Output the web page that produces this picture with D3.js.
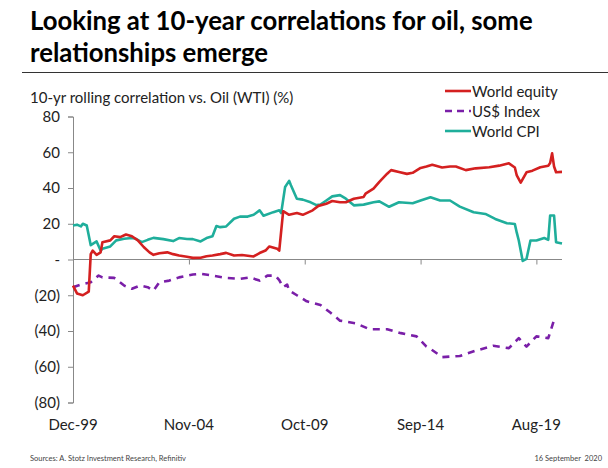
<!DOCTYPE html>
<html lang="en">
<head>
<meta charset="utf-8">
<title>10-year correlations for oil</title>
<script src="https://cdnjs.cloudflare.com/ajax/libs/d3/7.8.5/d3.min.js"></script>
<style>
  body { margin: 0; background: #fff; }
  svg text { font-family: Lato, "Open Sans", sans-serif; }
</style>
</head>
<body>
<div id="chart"></div>
<script>
// chart data
var equity = [
  ["1999-12", -14.6], ["2000-02", -19], ["2000-05", -20], ["2000-08", -18], ["2000-09", 3],
  ["2000-10", 5], ["2000-12", 2.6], ["2001-02", 4], ["2001-03", 9.7], ["2001-07", 10.7],
  ["2001-09", 13], ["2001-12", 12.5], ["2002-03", 14], ["2002-06", 13], ["2002-09", 10.7],
  ["2002-12", 7], ["2003-03", 4], ["2003-05", 2.6], ["2003-08", 3.5], ["2003-12", 4],
  ["2004-03", 3], ["2004-06", 2.2], ["2004-10", 1.5], ["2005-01", 0.9], ["2005-05", 1],
  ["2005-08", 1.8], ["2005-11", 2.2], ["2006-03", 3], ["2006-06", 3.7], ["2006-10", 2.2],
  ["2007-02", 2.5], ["2007-08", 1.7], ["2007-11", 3.6], ["2008-02", 5], ["2008-04", 7.3],
  ["2008-08", 6], ["2008-09", 5], ["2008-11", 27], ["2009-02", 25], ["2009-06", 26],
  ["2009-09", 25], ["2010-02", 27.5], ["2010-05", 30], ["2010-09", 31.2], ["2010-12", 32.7],
  ["2011-04", 32], ["2011-07", 32], ["2011-11", 34], ["2012-04", 35], ["2012-05", 36.8],
  ["2012-09", 39.6], ["2012-12", 43.4], ["2013-04", 48], ["2013-06", 50], ["2013-10", 49],
  ["2014-02", 47.9], ["2014-05", 48.5], ["2014-09", 51.2], ["2014-12", 52], ["2015-03", 53],
  ["2015-08", 51.5], ["2015-12", 52], ["2016-03", 52], ["2016-08", 50], ["2017-01", 51],
  ["2017-08", 51.6], ["2018-01", 52.5], ["2018-06", 53.8], ["2018-09", 51.5], ["2018-10", 47],
  ["2018-12", 43], ["2019-03", 48.8], ["2019-06", 49.7], ["2019-10", 51.6], ["2020-02", 52.5],
  ["2020-03", 54], ["2020-04", 59.4], ["2020-05", 52], ["2020-06", 48.8], ["2020-09", 49]
];
var usdIndex = [
  ["1999-12", -15.5], ["2000-04", -14], ["2000-09", -12.7], ["2001-01", -9], ["2001-03", -10],
  ["2001-09", -10.3], ["2002-02", -14.6], ["2002-06", -16.4], ["2002-10", -14.6], ["2003-02", -15.5],
  ["2003-05", -17.4], ["2003-08", -12.7], ["2004-01", -11.8], ["2004-06", -10], ["2005-01", -8.4],
  ["2005-05", -8], ["2005-11", -9], ["2006-06", -10.3], ["2007-01", -10.8], ["2007-06", -10],
  ["2007-11", -11.8], ["2008-03", -9], ["2008-07", -9], ["2008-09", -11.5], ["2008-11", -15.5],
  ["2009-01", -14], ["2009-02", -17.4], ["2009-06", -20], ["2009-11", -23.4], ["2010-06", -25.4],
  ["2010-11", -29.7], ["2011-04", -34.2], ["2011-12", -35.7], ["2012-07", -39], ["2013-04", -39],
  ["2013-11", -41.2], ["2014-07", -43], ["2014-12", -48.7], ["2015-02", -50], ["2015-08", -54.6],
  ["2016-05", -54], ["2017-01", -51], ["2017-10", -48.3], ["2018-06", -49.6], ["2018-11", -44],
  ["2019-03", -48.7], ["2019-08", -43], ["2020-02", -44], ["2020-05", -33.8], ["2020-06", -32.8]
];
var worldCpi = [
  ["1999-12", 19], ["2000-02", 19.5], ["2000-04", 18.5], ["2000-05", 20], ["2000-07", 19],
  ["2000-09", 8], ["2000-12", 10.1], ["2001-02", 5], ["2001-03", 6], ["2001-07", 7.3],
  ["2001-10", 10.7], ["2002-02", 11.6], ["2002-06", 12], ["2002-08", 11.6], ["2002-11", 9.7],
  ["2003-02", 11], ["2003-05", 12.1], ["2003-10", 11.4], ["2004-03", 10.3], ["2004-06", 12],
  ["2004-10", 11.5], ["2005-01", 11.4], ["2005-05", 10.1], ["2005-08", 12], ["2005-11", 13],
  ["2006-01", 18.7], ["2006-03", 18.1], ["2006-06", 18.5], ["2006-10", 22.8], ["2007-01", 24],
  ["2007-05", 24], ["2007-08", 25], ["2007-11", 27.5], ["2008-01", 24.5], ["2008-06", 26.5],
  ["2008-09", 27.5], ["2008-10", 26], ["2008-12", 40.6], ["2009-02", 44], ["2009-03", 41.5],
  ["2009-06", 34], ["2009-09", 33.5], ["2010-01", 32], ["2010-04", 30.4], ["2010-06", 30.7],
  ["2010-09", 33], ["2010-12", 35.3], ["2011-04", 36], ["2011-07", 34], ["2011-11", 30.3],
  ["2012-04", 30.7], ["2012-09", 32], ["2012-12", 32.5], ["2013-05", 29.5], ["2013-10", 32],
  ["2014-05", 31.5], ["2014-09", 33], ["2015-02", 34.8], ["2015-07", 33], ["2015-12", 33],
  ["2016-05", 29.6], ["2016-12", 26.4], ["2017-06", 25.5], ["2017-11", 22.7], ["2018-05", 20.3],
  ["2018-09", 19.9], ["2018-10", 15], ["2018-11", 10.6], ["2019-01", -0.8], ["2019-03", 0.4],
  ["2019-05", 10.6], ["2019-08", 10.6], ["2019-12", 12], ["2020-02", 11], ["2020-03", 24.6],
  ["2020-05", 24.6], ["2020-06", 9.7], ["2020-09", 9]
];
var seriesNames = ["World equity", "US$ Index", "World CPI"];
var xTickDates = ["1999-12", "2004-11", "2009-10", "2014-09", "2019-08"];
var xTickLabels = ["Dec-99", "Nov-04", "Oct-09", "Sep-14", "Aug-19"];
var yTicks = [80, 60, 40, 20, 0, -20, -40, -60, -80];

var width = 608, height = 468;
var parse = d3.timeParse("%Y-%m");

var svg = d3.select("#chart").append("svg")
    .attr("width", width)
    .attr("height", height);

// title, fitted to the width of the original lines
var title = svg.append("g");
var t1 = title.append("text").attr("x", 30).attr("y", 30)
    .attr("font-weight", "bold").attr("font-size", 26).attr("fill", "#000")
    .text("Looking at 10-year correlations for oil, some");
var fit = 26 * 503 / t1.node().getComputedTextLength();
t1.attr("font-size", fit);
title.append("text").attr("x", 30).attr("y", 62)
    .attr("font-weight", "bold").attr("font-size", fit).attr("fill", "#000")
    .text("relationships emerge");
svg.append("line").attr("x1", 22).attr("x2", 608).attr("y1", 72.5).attr("y2", 72.5)
    .attr("stroke", "#333").attr("stroke-width", 1);

svg.append("text").attr("x", 30).attr("y", 103)
    .attr("font-size", 15).attr("fill", "#222")
    .text("10-yr rolling correlation vs. Oil (WTI) (%)");

var xScale = d3.scaleTime()
    .domain([parse("1999-12"), parse("2020-09")])
    .range([73, 562]);
var yScale = d3.scaleLinear()
    .domain([-80, 80])
    .range([402.5, 116.5]);

// y axis
var yAxis = d3.axisLeft(yScale)
    .tickValues(yTicks)
    .tickSize(5)
    .tickPadding(8)
    .tickFormat(function(d){ return d === 0 ? "-" : d < 0 ? "(" + (-d) + ")" : d; });
var gy = svg.append("g")
    .attr("transform", "translate(73,0)")
    .call(yAxis);
gy.select(".domain").attr("stroke", "#888");
gy.selectAll(".tick line").attr("stroke", "#888");
gy.selectAll(".tick text").attr("font-size", 15).attr("fill", "#222")
    .style("font-family", "Lato, sans-serif");

// x axis drawn on the zero line, labels at the bottom
var xAxis = d3.axisBottom(xScale)
    .tickValues(xTickDates.map(parse))
    .tickSize(5)
    .tickFormat("");
var gx = svg.append("g")
    .attr("transform", "translate(0," + yScale(0) + ")")
    .call(xAxis);
gx.select(".domain").attr("stroke", "#888").attr("d", "M73,0H562");
gx.selectAll(".tick line").attr("stroke", "#888");

svg.selectAll(".xlabel")
    .data(xTickDates)
    .enter().append("text")
    .attr("class", "xlabel")
    .attr("x", function(d){ return xScale(parse(d)); })
    .attr("y", 430)
    .attr("text-anchor", "middle")
    .attr("font-size", 15)
    .attr("fill", "#222")
    .text(function(d, i){ return xTickLabels[i]; });

var line = d3.line()
    .x(function(d){ return xScale(parse(d[0])); })
    .y(function(d){ return yScale(d[1]); });

var styles = [
  {data: equity, color: "#d42020", dash: null},
  {data: usdIndex, color: "#7a1fa8", dash: "7,6"},
  {data: worldCpi, color: "#1fae9b", dash: null}
];

// draw in order so CPI and equity sit above the dollar line
[1, 2, 0].forEach(function(i){
  svg.append("path")
    .datum(styles[i].data)
    .attr("fill", "none")
    .attr("stroke", styles[i].color)
    .attr("stroke-width", 2.6)
    .attr("stroke-linejoin", "round")
    .attr("stroke-dasharray", styles[i].dash)
    .attr("d", line);
});

// legend
var legend = svg.selectAll(".legend")
    .data(seriesNames)
    .enter().append("g")
    .attr("class", "legend")
    .attr("transform", function(d, i){ return "translate(445," + (91 + i * 20) + ")"; });
legend.append("line")
    .attr("x1", 0).attr("x2", 26).attr("y1", 0).attr("y2", 0)
    .attr("stroke", function(d, i){ return styles[i].color; })
    .attr("stroke-width", 2.6)
    .attr("stroke-dasharray", function(d, i){ return styles[i].dash ? "7,5" : null; });
legend.append("text")
    .attr("x", 27).attr("y", 5.5)
    .attr("font-size", 15)
    .attr("fill", "#222")
    .text(function(d){ return d; });

// footer
svg.append("text").attr("x", 30).attr("y", 461)
    .attr("font-size", 7.5).attr("fill", "#444")
    .text("Sources: A. Stotz Investment Research, Refinitiv");
svg.append("text").attr("x", 602).attr("y", 461)
    .attr("text-anchor", "end")
    .attr("font-size", 7.5).attr("fill", "#444")
    .attr("xml:space", "preserve")
    .text("16 September  2020");
</script>
</body>
</html>
